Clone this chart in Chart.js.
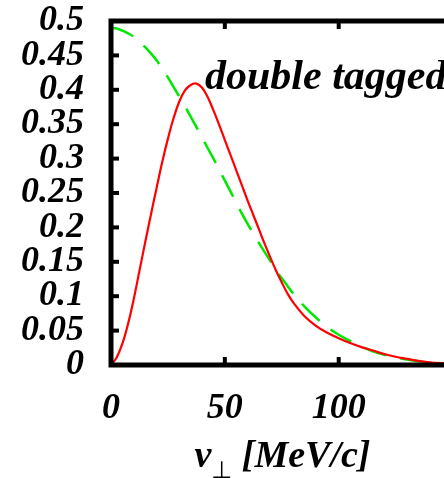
<!DOCTYPE html>
<html><head><meta charset="utf-8">
<script src="https://cdn.jsdelivr.net/npm/chart.js@4"></script>
<style>
html,body{margin:0;padding:0;overflow:hidden;background:#fff;width:444px;height:478px}
#wrap{position:absolute;left:0;top:0;width:452px;height:478px}
</style></head><body><div id="wrap"><canvas id="c" width="452" height="478"></canvas></div>
<script>
const xValues = [0,2.5,5,7.5,10,12.5,15,17.5,20,22.5,25,27.5,30,32.5,35,37.5,40,42.5,45,47.5,50,52.5,55,57.5,60,62.5,65,67.5,70,72.5,75,77.5,80,85,90,95,100,105,110,115,120,125,130,135,140,145,150];
const redValues = [0,0.011,0.031,0.060,0.096,0.137,0.178,0.218,0.257,0.295,0.329,0.359,0.383,0.399,0.407,0.409,0.403,0.389,0.370,0.349,0.327,0.305,0.283,0.261,0.239,0.218,0.197,0.176,0.156,0.137,0.120,0.104,0.091,0.071,0.057,0.047,0.039,0.032,0.026,0.021,0.016,0.012,0.009,0.006,0.004,0.0027,0.0018];
const greenValues = [0.490,0.489,0.486,0.482,0.477,0.470,0.462,0.453,0.443,0.431,0.418,0.404,0.390,0.376,0.361,0.346,0.331,0.315,0.300,0.284,0.268,0.252,0.236,0.220,0.205,0.191,0.177,0.164,0.151,0.138,0.126,0.115,0.104,0.085,0.069,0.055,0.044,0.035,0.027,0.020,0.015,0.011,0.008,0.0055,0.0037,0.0025,0.0016];
const xTicks = [0,50,100];
const yTicks = [0,0.05,0.1,0.15,0.2,0.25,0.3,0.35,0.4,0.45,0.5];
const yTickLabels = ['0','0.05','0.1','0.15','0.2','0.25','0.3','0.35','0.4','0.45','0.5'];
const xTickLabels = ['0','50','100'];
const xRange = [0,148];
const yRange = [0,0.5];
const annotationText = 'double tagged';
const xTitleMain = 'v', xTitleSub = '\u22A5', xTitleRest = ' [MeV/c]';

const serif = '"Liberation Serif", "Times New Roman", serif';
const tickFont = {family: serif, size: 36, style: 'italic', weight: 'bold'};

const framePlugin = {
  id: 'frame',
  afterDraw(chart) {
    const {ctx, chartArea: a, scales} = chart;
    ctx.save();
    ctx.strokeStyle = '#000';
    ctx.lineWidth = 5;
    ctx.lineCap = 'butt';
    ctx.strokeRect(a.left, a.top, a.right - a.left, a.bottom - a.top);
    ctx.lineWidth = 4;
    const tl = 8;
    yTicks.forEach(v => {
      const y = scales.y.getPixelForValue(v);
      if (v > yRange[0] && v < yRange[1]) {
        ctx.beginPath(); ctx.moveTo(a.left, y); ctx.lineTo(a.left + tl, y); ctx.stroke();
      }
    });
    xTicks.forEach(v => {
      const x = scales.x.getPixelForValue(v);
      if (v > xRange[0] && v < xRange[1]) {
        ctx.beginPath(); ctx.moveTo(x, a.bottom); ctx.lineTo(x, a.bottom - tl); ctx.stroke();
        ctx.beginPath(); ctx.moveTo(x, a.top); ctx.lineTo(x, a.top + tl); ctx.stroke();
      }
    });
    ctx.fillStyle = '#000';
    ctx.textBaseline = 'alphabetic';
    ctx.textAlign = 'left';
    ctx.font = 'italic bold 42px ' + serif;
    ctx.fillText(annotationText, 205, 89);
    const fMain = 'italic bold 38px ' + serif;
    const fSub = '24px "DejaVu Sans", sans-serif';
    ctx.font = fMain; const w1 = ctx.measureText(xTitleMain).width;
    const w3 = ctx.measureText(xTitleRest).width;
    ctx.font = fSub; const w2 = ctx.measureText(xTitleSub).width;
    const total = w1 + w2 + w3;
    let x0 = (a.left + a.right) / 2 - total / 2 + 3;
    const base = 467;
    ctx.font = fMain; ctx.fillText(xTitleMain, x0, base);
    ctx.font = fSub; ctx.fillText(xTitleSub, x0 + w1, base + 11);
    ctx.font = fMain; ctx.fillText(xTitleRest, x0 + w1 + w2, base);
    ctx.restore();
  }
};

new Chart(document.getElementById('c'), {
  type: 'scatter',
  data: {
    datasets: [
      {data: xValues.map((x, i) => ({x, y: redValues[i]})), showLine: true, borderColor: '#ff0000', borderWidth: 2.2, pointRadius: 0, tension: 0.4},
      {data: xValues.map((x, i) => ({x, y: greenValues[i]})), showLine: true, borderColor: '#00e800', borderWidth: 2.5, borderDash: [24, 14], pointRadius: 0, tension: 0.4}
    ]
  },
  options: {
    responsive: false, animation: false, devicePixelRatio: 1,
    layout: {padding: {top: 21, right: 4, left: 0, bottom: 0}},
    plugins: {legend: {display: false}, tooltip: {enabled: false}},
    scales: {
      x: {
        type: 'linear', min: xRange[0], max: xRange[1],
        grid: {display: false}, border: {display: false},
        afterBuildTicks: s => { s.ticks = xTicks.map(v => ({value: v})); },
        ticks: {font: tickFont, color: '#000', padding: 14, maxRotation: 0, autoSkip: false,
          callback: v => { const i = xTicks.indexOf(v); return i >= 0 ? xTickLabels[i] : ''; }},
        afterFit: s => { s.height = 113; s.paddingLeft = 0; s.paddingRight = 0; }
      },
      y: {
        type: 'linear', min: yRange[0], max: yRange[1],
        grid: {display: false}, border: {display: false},
        afterBuildTicks: s => { s.ticks = yTicks.map(v => ({value: v})); },
        ticks: {font: tickFont, color: '#000', padding: 19, autoSkip: false,
          callback: v => { const i = yTicks.findIndex(t => Math.abs(t - v) < 1e-9); return i >= 0 ? yTickLabels[i] : ''; }},
        afterFit: s => { s.width = 111; s.paddingTop = 0; s.paddingBottom = 0; }
      }
    }
  },
  plugins: [framePlugin]
});
</script></body></html>
